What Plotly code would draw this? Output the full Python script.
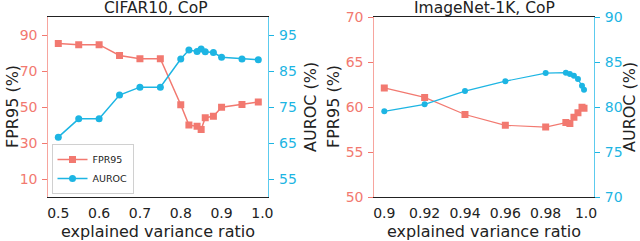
import plotly.graph_objects as go

# ---- data ----
cifar_x = [0.5, 0.55, 0.6, 0.65, 0.7, 0.75, 0.8, 0.82, 0.84, 0.85, 0.86, 0.88, 0.9, 0.95, 0.99]
cifar_fpr = [85.4, 84.8, 84.8, 78.8, 77.0, 77.0, 51.4, 40.1, 39.5, 37.7, 44.2, 45.0, 50.0, 51.6, 53.0]
cifar_auroc = [66.7, 71.8, 71.8, 78.4, 80.6, 80.6, 88.4, 90.9, 90.5, 91.2, 90.4, 90.2, 88.9, 88.4, 88.2]

imnet_x = [0.9, 0.92, 0.94, 0.96, 0.98, 0.99, 0.992, 0.994, 0.996, 0.998, 0.999]
imnet_fpr = [62.15, 61.1, 59.2, 58.0, 57.8, 58.3, 58.2, 58.9, 59.4, 60.0, 59.9]
imnet_auroc = [79.55, 80.33, 81.8, 82.9, 83.8, 83.85, 83.7, 83.5, 83.15, 82.4, 81.95]

cifar_fpr_ticks = [10, 30, 50, 70, 90]
cifar_auroc_ticks = [55, 65, 75, 85, 95]
imnet_fpr_ticks = [50, 55, 60, 65, 70]
imnet_auroc_ticks = [70, 75, 80, 85, 90]
cifar_x_ticks = [0.5, 0.6, 0.7, 0.8, 0.9, 1.0]
cifar_x_labels = ["0.5", "0.6", "0.7", "0.8", "0.9", "1.0"]
imnet_x_ticks = [0.9, 0.92, 0.94, 0.96, 0.98, 1.0]
imnet_x_labels = ["0.9", "0.92", "0.94", "0.96", "0.98", "1.0"]

RED = "#F27970"
BLUE = "#1DB5E3"
RED_SPINE = "#F7A59E"
BLUE_SPINE = "#5CCBEE"
FONT = "DejaVu Sans"
W, H = 640, 241

def px(v):
    return v / W

def py(v):
    return 1 - v / H

fig = go.Figure()

fig.add_trace(go.Scatter(x=cifar_x, y=cifar_fpr, name="FPR95", mode="lines+markers",
                         line=dict(color=RED, width=1.5), marker=dict(symbol="square", size=7, color=RED),
                         xaxis="x", yaxis="y"))
fig.add_trace(go.Scatter(x=cifar_x, y=cifar_auroc, name="AUROC", mode="lines+markers",
                         line=dict(color=BLUE, width=1.5), marker=dict(symbol="circle", size=7, color=BLUE),
                         xaxis="x", yaxis="y2"))
fig.add_trace(go.Scatter(x=imnet_x, y=imnet_fpr, name="FPR95", mode="lines+markers", showlegend=False,
                         line=dict(color=RED, width=1.2), marker=dict(symbol="square", size=7, color=RED),
                         xaxis="x2", yaxis="y3"))
fig.add_trace(go.Scatter(x=imnet_x, y=imnet_auroc, name="AUROC", mode="lines+markers", showlegend=False,
                         line=dict(color=BLUE, width=1.2), marker=dict(symbol="circle", size=6, color=BLUE),
                         xaxis="x2", yaxis="y4"))

dom1 = [px(48.3), px(268.3)]
dom2 = [px(374.3), px(594)]
ydom = [py(197.3), py(17.3)]

xcommon = dict(showgrid=False, zeroline=False, showline=True, linecolor="#222", linewidth=1, mirror=True,
               ticks="outside", ticklen=3, tickcolor="rgba(0,0,0,0)", automargin=False,
               tickfont=dict(family=FONT, size=14, color="#222"))
ycommon = dict(showgrid=False, zeroline=False, showline=True, linewidth=1, ticks="outside", ticklen=5,
               tickwidth=1, ticklabelstandoff=2, automargin=False)

fig.update_layout(
    template="none",
    width=W, height=H, margin=dict(l=0, r=0, t=0, b=0, pad=0, autoexpand=False),
    plot_bgcolor="white", paper_bgcolor="white",
    font=dict(family=FONT),
    xaxis=dict(domain=dom1, anchor="y", range=[0.4755, 1.0145], tickvals=cifar_x_ticks,
               ticktext=cifar_x_labels, **xcommon),
    xaxis2=dict(domain=dom2, anchor="y3", range=[0.89505, 1.00395], tickvals=imnet_x_ticks,
                ticktext=imnet_x_labels, **xcommon),
    yaxis=dict(domain=ydom, anchor="x", range=[0, 100], tickvals=cifar_fpr_ticks, linecolor=RED_SPINE,
               tickcolor=RED, tickfont=dict(family=FONT, size=14, color=RED), **ycommon),
    yaxis2=dict(domain=ydom, anchor="x", overlaying="y", side="right", range=[50, 100],
                tickvals=cifar_auroc_ticks, linecolor=BLUE_SPINE, tickcolor=BLUE,
                tickfont=dict(family=FONT, size=14, color=BLUE), **ycommon),
    yaxis3=dict(domain=ydom, anchor="x2", range=[50, 70], tickvals=imnet_fpr_ticks, linecolor=RED_SPINE,
                tickcolor=RED, tickfont=dict(family=FONT, size=14, color=RED), **ycommon),
    yaxis4=dict(domain=ydom, anchor="x2", overlaying="y3", side="right", range=[70, 90],
                tickvals=imnet_auroc_ticks, linecolor=BLUE_SPINE, tickcolor=BLUE,
                tickfont=dict(family=FONT, size=14, color=BLUE), **ycommon),
    legend=dict(x=px(51.5), y=py(194), xanchor="left", yanchor="bottom", bgcolor="white",
                bordercolor="#d0d0d0", borderwidth=1, font=dict(family=FONT, size=9.5, color="#222"),
                itemwidth=30, tracegroupgap=0),
    showlegend=True,
)

ann = []
def text(x, y, s, size, angle=0):
    ann.append(dict(x=px(x), y=py(y), xref="paper", yref="paper", text=s, showarrow=False,
                    textangle=angle, xanchor="center", yanchor="middle",
                    font=dict(family=FONT, size=size, color="#222")))

text(156, 7.5, "CIFAR10, CoP", 15.5)
text(484, 7.5, "ImageNet-1K, CoP", 15.5)
text(158.3, 231, "explained variance ratio", 16)
text(484, 231, "explained variance ratio", 16)
text(12, 107, "FPR95 (%)", 16, -90)
text(310, 107, "AUROC (%)", 16, -90)
text(333, 107, "FPR95 (%)", 16, -90)
text(629, 107, "AUROC (%)", 16, -90)
fig.update_layout(annotations=ann)

fig.write_html("out.html", config={"displayModeBar": False},
               post_script="document.body.style.margin='0';")
